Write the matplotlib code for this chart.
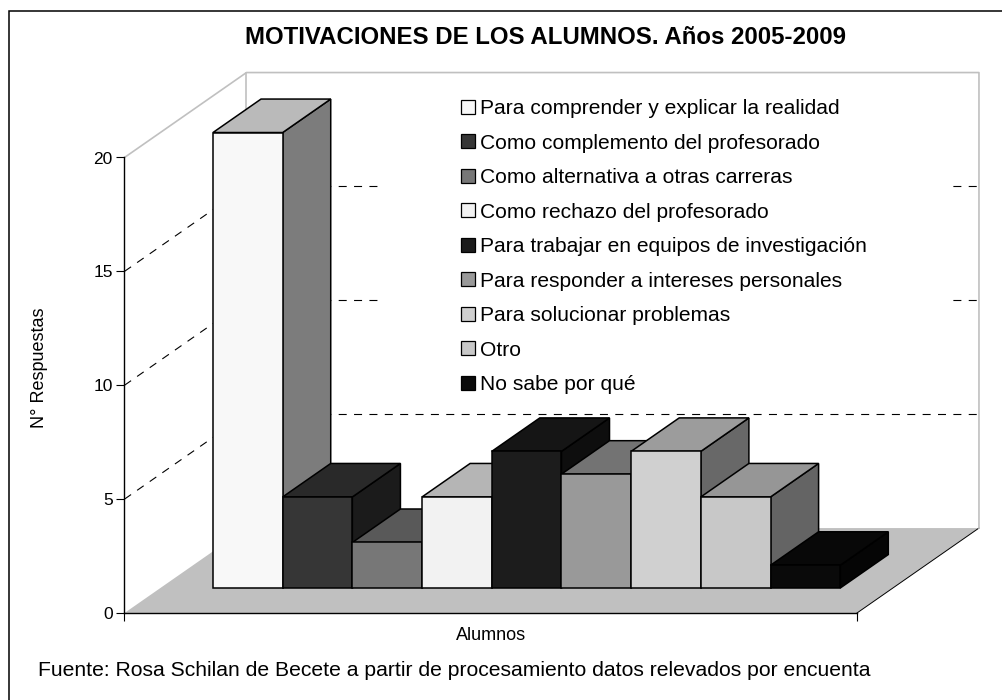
import numpy as np
import matplotlib
matplotlib.use("Agg")
import matplotlib.pyplot as plt
from matplotlib.lines import Line2D
from matplotlib.patches import Patch, Polygon, Rectangle
from matplotlib.colors import to_rgb

plt.rcParams['font.family'] = ['Liberation Sans', 'DejaVu Sans']

# data
categories = ["Para comprender y explicar la realidad",
              "Como complemento del profesorado",
              "Como alternativa a otras carreras",
              "Como rechazo del profesorado",
              "Para trabajar en equipos de investigación",
              "Para responder a intereses personales",
              "Para solucionar problemas",
              "Otro",
              "No sabe por qué"]
values = [20, 4, 2, 4, 6, 5, 6, 4, 1]
colors = ["#f8f8f8", "#363636", "#777777", "#f2f2f2", "#1c1c1c",
          "#999999", "#d0d0d0", "#c8c8c8", "#0a0a0a"]
y_ticks = [0, 5, 10, 15, 20]

W, H = 1003, 700
# oblique 3d look, depth vector in data units (1 bar wide, 1 response high)
GAP = 0.755
DX, DY = 1.75, 3.73
BAR_FRONT, BAR_DEPTH = 0.294, 0.394
WALL = "#c0c0c0"


def proj(x, v, d=0.0):
    return (x + d * DX, v + d * DY)


def shade(col, f):
    return tuple(c * f for c in to_rgb(col))


fig = plt.figure(figsize=(W / 100, H / 100), dpi=100, facecolor="white")
ax = fig.add_axes([124.5 / W, (H - 613) / H, 732.5 / W, 455.5 / H])
ax.patch.set_visible(False)
x_end = 2 * GAP + len(values)
ax.set_xlim(0, x_end)
ax.set_ylim(0, 20)

# outer frame, only left and top are inside the picture
fig.add_artist(Line2D([9.5 / W, 9.5 / W, 1], [0, 1 - 11 / H, 1 - 11 / H], transform=fig.transFigure,
                      color="black", lw=1.1, solid_joinstyle="miter"))

# floor
floor = [proj(0, 0), proj(x_end, 0), proj(x_end, 0, 1), proj(0, 0, 1)]
ax.add_patch(Polygon(floor, fc=WALL, ec="none", clip_on=False, zorder=1))
xs, ys = zip(proj(x_end, 0), proj(x_end, 0, 1))
ax.plot(xs, ys, color="black", lw=0.7, clip_on=False, zorder=1.1)

# walls
wall_pts = [proj(0, 20), proj(0, 20, 1), proj(x_end, 20, 1), proj(x_end, 0, 1)]
ax.plot(*zip(*wall_pts), color=WALL, lw=1.2, clip_on=False, zorder=1.1)
ax.plot(*zip(proj(0, 20, 1), proj(0, 0, 1)), color=WALL, lw=1.2, clip_on=False, zorder=1.1)

# gridlines, side wall and back wall drawn apart so the dashes start at each corner
dash = (0, (7.2, 6.63))
for v in y_ticks[1:-1]:
    ax.plot(*zip(proj(0, v), proj(0, v, 1)), color="black", lw=0.8, ls=dash, clip_on=False, zorder=1.2)
    ax.plot(*zip(proj(0, v, 1), proj(x_end, v, 1)), color="black", lw=0.8, ls=dash, clip_on=False, zorder=1.2)

# white block behind legend
fig.add_artist(Rectangle((380 / W, 1 - 400 / H), 572 / W, 310 / H, transform=fig.transFigure,
                         fc="white", ec="none", zorder=1.3))

# bars, left to right so the next one hides the side of the previous
for i, (val, col) in enumerate(zip(values, colors)):
    x0, x1 = GAP + i, GAP + i + 1
    d0, d1 = BAR_FRONT, BAR_FRONT + BAR_DEPTH
    side = [proj(x1, 0, d0), proj(x1, 0, d1), proj(x1, val, d1), proj(x1, val, d0)]
    top = [proj(x0, val, d0), proj(x1, val, d0), proj(x1, val, d1), proj(x0, val, d1)]
    front = [proj(x0, 0, d0), proj(x1, 0, d0), proj(x1, val, d0), proj(x0, val, d0)]
    for pts, f in ((side, 0.5), (top, 0.75), (front, 1.0)):
        ax.add_patch(Polygon(pts, fc=shade(col, f), ec="black", lw=1.1, joinstyle="miter",
                             clip_on=False, zorder=3))

# axes
for s in ("top", "right"):
    ax.spines[s].set_visible(False)
for s in ("left", "bottom"):
    ax.spines[s].set_linewidth(1.0)
ax.set_yticks(y_ticks)
ax.set_xticks([0, x_end])
ax.set_xticklabels([])
ax.tick_params(axis="y", length=6, width=0.8, pad=2.5, labelsize=12.5)
ax.tick_params(axis="x", length=6, width=0.8)

fig.text(39 / W, 1 - 368 / H, "N° Respuestas", rotation=90, ha="center", va="center", fontsize=13)
fig.text(491 / W, 1 - 635 / H, "Alumnos", ha="center", va="center", fontsize=13)
fig.text(545.5 / W, 1 - 38 / H, "MOTIVACIONES DE LOS ALUMNOS. Años 2005-2009", ha="center", va="center",
         fontsize=17.3, fontweight="bold")
fig.text(38 / W, 1 - 670 / H, "Fuente: Rosa Schilan de Becete a partir de procesamiento datos relevados por encuenta",
         ha="left", va="center", fontsize=15.2)

# legend
handles = [Patch(fc=c, ec="black", lw=0.9) for c in colors]
leg = fig.legend(handles, categories, loc="upper left", bbox_to_anchor=(461 / W, 1 - 99 / H),
                 borderpad=0, borderaxespad=0, frameon=False, fontsize=15.1,
                 handlelength=0.65, handleheight=0.65, handletextpad=0.265, labelspacing=0.74)
leg.set_zorder(5)

fig.savefig("out.png", dpi=100)
